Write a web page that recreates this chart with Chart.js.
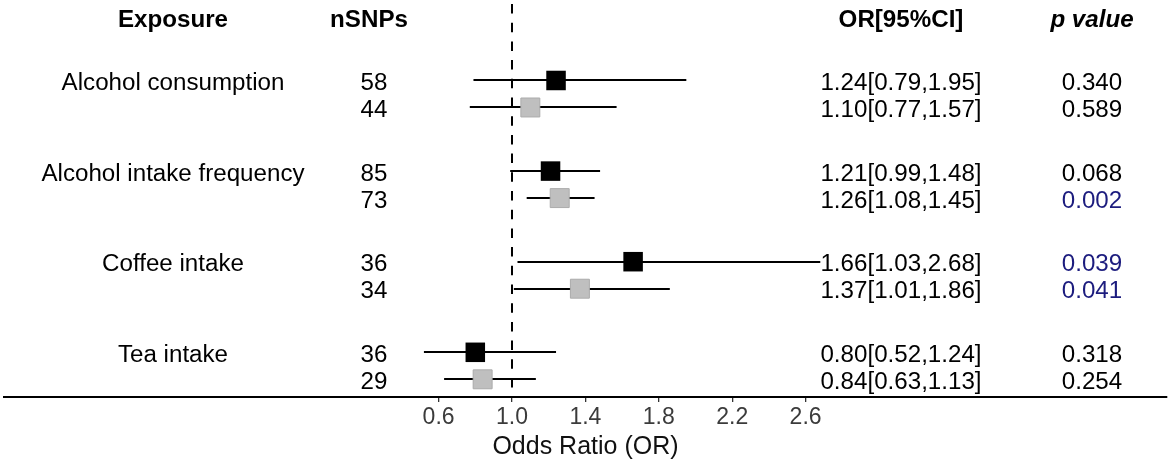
<!DOCTYPE html>
<html>
<head>
<meta charset="utf-8">
<script src="https://cdn.jsdelivr.net/npm/chart.js@4.4.1/dist/chart.umd.min.js"></script>
<style>
  html, body { margin: 0; padding: 0; background: #ffffff; }
  #wrap { width: 1170px; height: 465px; position: relative; }
</style>
</head>
<body>
<div id="wrap"><canvas id="c"></canvas></div>
<script>
// ---------------- data ----------------
const exposures = ['Alcohol consumption', 'Alcohol intake frequency', 'Coffee intake', 'Tea intake'];
const nsnpsA = [58, 85, 36, 36];
const nsnpsB = [44, 73, 34, 29];
const orA = [1.24, 1.21, 1.66, 0.80];
const loA = [0.79, 0.99, 1.03, 0.52];
const hiA = [1.95, 1.48, 2.68, 1.24];
const orB = [1.10, 1.26, 1.37, 0.84];
const loB = [0.77, 1.08, 1.01, 0.63];
const hiB = [1.57, 1.45, 1.86, 1.13];
const pA = ['0.340', '0.068', '0.039', '0.318'];
const pB = ['0.589', '0.002', '0.041', '0.254'];
const tickVals = [0.6, 1.0, 1.4, 1.8, 2.2, 2.6];
const headers = ['Exposure', 'nSNPs', 'OR[95%CI]', 'p value'];
const refLine = 1.0;
const xTitle = 'Odds Ratio (OR)';

// ---------------- layout helpers ----------------
const GROUP_PITCH = 3.355;   // rows in y-units
const rowVal = (g, i) => g * GROUP_PITCH + i;
const FONT = '"Liberation Sans", Arial, Helvetica, sans-serif';
const FS = 23;
const SX = 1.05; // slight horizontal stretch of table text

const pointsA = orA.map((v, g) => ({ x: v, y: rowVal(g, 0) }));
const pointsB = orB.map((v, g) => ({ x: v, y: rowVal(g, 1) }));

const fmtCI = (o, l, h) => o.toFixed(2) + '[' + l.toFixed(2) + ',' + h.toFixed(2) + ']';

function txt(ctx, s, cx, y) {
  ctx.save();
  ctx.translate(cx, y);
  ctx.scale(SX, 1);
  ctx.fillText(s, 0, 0);
  ctx.restore();
}

const forestPlugin = {
  id: 'forest',
  beforeDatasetsDraw(chart) {
    const { ctx, chartArea } = chart;
    const xs = chart.scales.x, ys = chart.scales.y;
    ctx.save();
    // reference dashed line
    const xr = Math.round(xs.getPixelForValue(refLine));
    ctx.strokeStyle = '#000';
    ctx.lineWidth = 2;
    ctx.setLineDash([9.5, 9.2]);
    ctx.lineDashOffset = 14.7;
    ctx.beginPath();
    ctx.moveTo(xr, chartArea.top);
    ctx.lineTo(xr, chartArea.bottom);
    ctx.stroke();
    ctx.setLineDash([]);
    // confidence intervals
    ctx.lineWidth = 2;
    const drawCI = (lo, hi, yv) => {
      const y = Math.round(ys.getPixelForValue(yv));
      ctx.beginPath();
      ctx.moveTo(xs.getPixelForValue(lo), y);
      ctx.lineTo(xs.getPixelForValue(hi), y);
      ctx.stroke();
    };
    exposures.forEach((_, g) => {
      drawCI(loA[g], hiA[g], rowVal(g, 0));
      drawCI(loB[g], hiB[g], rowVal(g, 1));
    });
    ctx.restore();
  },
  afterDraw(chart) {
    const { ctx, chartArea } = chart;
    const ys = chart.scales.y;
    const colExp = 173, colN = 374, colOR = 901, colP = 1092;
    const capOff = 1.5 + 0.358 * FS;
    ctx.save();
    ctx.textAlign = 'center';
    ctx.textBaseline = 'alphabetic';
    ctx.fillStyle = '#000';
    // headers
    const hy = chartArea.top + 19 + 0.358 * FS;
    ctx.font = 'bold ' + FS + 'px ' + FONT;
    txt(ctx, headers[0], colExp, hy);
    txt(ctx, headers[1], 369, hy);
    txt(ctx, headers[2], colOR, hy);
    ctx.font = 'italic bold ' + FS + 'px ' + FONT;
    txt(ctx, headers[3], colP, hy);
    // rows
    ctx.font = FS + 'px ' + FONT;
    const blue = '#1c1c7e';
    exposures.forEach((name, g) => {
      const y0 = ys.getPixelForValue(rowVal(g, 0)) + capOff;
      const y1 = ys.getPixelForValue(rowVal(g, 1)) + capOff;
      ctx.fillStyle = '#000';
      txt(ctx, name, colExp, y0);
      txt(ctx, String(nsnpsA[g]), colN, y0);
      txt(ctx, String(nsnpsB[g]), colN, y1);
      txt(ctx, fmtCI(orA[g], loA[g], hiA[g]), colOR, y0);
      txt(ctx, fmtCI(orB[g], loB[g], hiB[g]), colOR, y1);
      ctx.fillStyle = parseFloat(pA[g]) < 0.05 ? blue : '#000';
      txt(ctx, pA[g], colP, y0);
      ctx.fillStyle = parseFloat(pB[g]) < 0.05 ? blue : '#000';
      txt(ctx, pB[g], colP, y1);
    });
    ctx.restore();
  }
};

new Chart(document.getElementById('c'), {
  type: 'scatter',
  data: {
    datasets: [
      {
        label: 'A',
        data: pointsA,
        pointStyle: 'rect',
        pointRadius: 13.8,
        pointHoverRadius: 13.8,
        backgroundColor: '#000000',
        borderColor: '#000000',
        borderWidth: 0
      },
      {
        label: 'B',
        data: pointsB,
        pointStyle: 'rect',
        pointRadius: 13.4,
        pointHoverRadius: 13.4,
        backgroundColor: '#bfbfbf',
        borderColor: '#ababab',
        borderWidth: 1
      }
    ]
  },
  options: {
    responsive: true,
    maintainAspectRatio: false,
    animation: false,
    events: [],
    layout: { autoPadding: false, padding: { left: 4, right: 3, top: 0, bottom: 0 } },
    plugins: { legend: { display: false }, tooltip: { enabled: false } },
    scales: {
      x: {
        type: 'linear',
        position: 'bottom',
        min: -1.7684,
        max: 4.5695,
        afterBuildTicks: (s) => { s.ticks = tickVals.map(v => ({ value: v })); },
        afterFit: (s) => { s.height = 68; },
        ticks: {
          callback: (v) => Number(v).toFixed(1),
          font: { family: FONT, size: 23 },
          color: '#3b3b3b',
          padding: 2,
          maxRotation: 0,
          autoSkip: false
        },
        grid: {
          display: true,
          drawOnChartArea: false,
          drawTicks: true,
          tickLength: 5,
          color: '#333',
          lineWidth: 1.3
        },
        border: { display: true, color: '#000', width: 2 },
        title: {
          display: true,
          text: xTitle,
          font: { family: FONT, size: 25 },
          color: '#111',
          padding: { top: 0, bottom: 3.2 }
        }
      },
      y: {
        type: 'linear',
        display: false,
        reverse: true,
        min: -2.98,
        max: 11.72
      }
    }
  },
  plugins: [forestPlugin]
});
</script>
</body>
</html>
